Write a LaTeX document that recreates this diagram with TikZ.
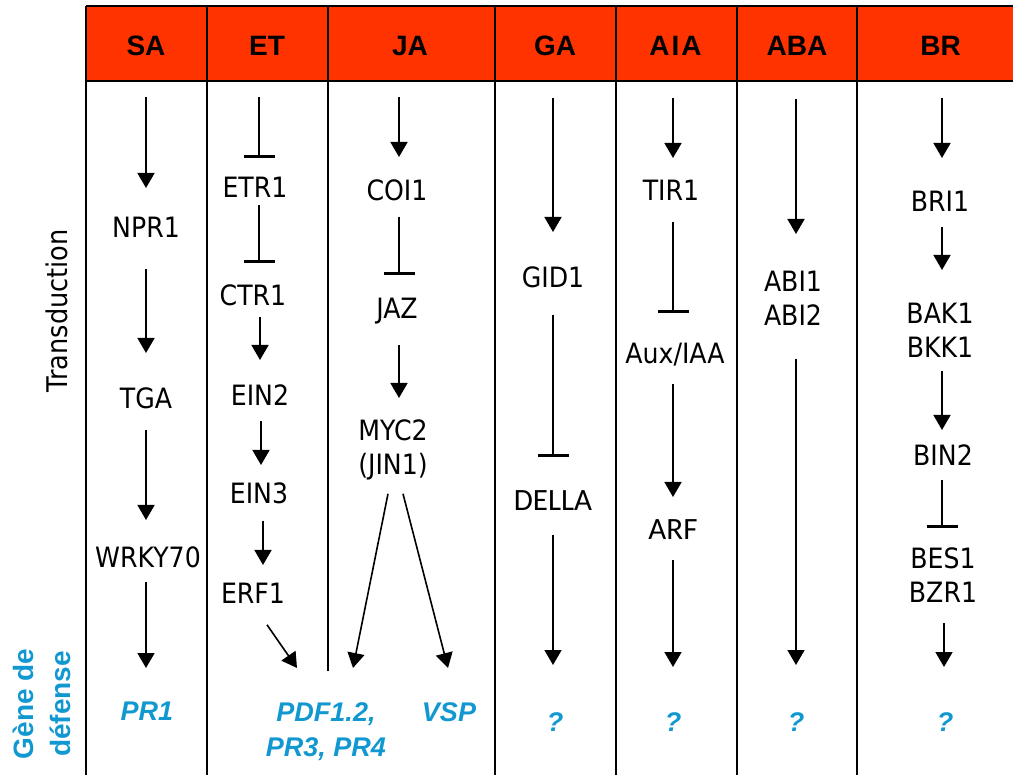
\documentclass[tikz,border=0pt]{standalone}
\usepackage{fontspec}
\setmainfont{DejaVu Sans}[FakeStretch=0.9]
\newfontfamily\hdfont{Liberation Sans}
\newfontfamily\calfont{Carlito}
\usetikzlibrary{arrows.meta}
\definecolor{hdred}{RGB}{255,51,0}
\definecolor{genblue}{RGB}{18,152,208}
\begin{document}
\begin{tikzpicture}[x=1pt,y=-1pt,
  lab/.style={inner sep=0pt, anchor=north, font=\fontsize{28}{34}\selectfont, align=center},
  cal/.style={lab, font=\calfont\fontsize{31}{36}\selectfont},
  hd/.style={inner sep=0pt, font=\hdfont\bfseries\fontsize{28}{34}\selectfont},
  gene/.style={inner sep=0pt, anchor=north, text=genblue, font=\hdfont\bfseries\itshape\fontsize{27}{35}\selectfont, align=center},
  act/.style={line width=1.6pt, -{Triangle[width=17pt,length=15pt]}},
  inh/.style={line width=1.6pt, -{Bar[width=31pt,line width=3.4pt]}},
  gridline/.style={line width=2pt}]
\useasboundingbox (0,0) rectangle (1013,775);
% header band
\fill[hdred] (86,6) rectangle (1013,81);
\draw[gridline] (86,6) -- (1013,6);
\draw[line width=2.6pt] (86,81) -- (1013,81);
\foreach \xx in {86,206.5,494.5,616,737,857} {\draw[gridline] (\xx,6) -- (\xx,775);}
\draw[gridline] (328,6) -- (328,671);
% headers
\node[hd] (hSA) at (146,46) {SA};
\node[hd] (hET) at (267,46) {ET};
\node[hd] (hJA) at (410,46) {JA};
\node[hd] (hGA) at (555,46) {GA};
\node[hd] (hAIA) at (675.5,46) {A\kern2pt I\kern2pt A};
\node[hd] (hABA) at (797,46) {ABA};
\node[hd] (hBR) at (940.5,46) {BR};
% row labels
\node[rotate=90, inner sep=0pt, font=\fontsize{28.5}{34}\selectfont] (trlab) at (57,311) {Transduction};
\node[rotate=90, inner sep=0pt, align=center, text=genblue, font=\hdfont\bfseries\fontsize{28}{37}\selectfont] (gdlab) at (42,704) {Gène de\\défense};
% ---- SA
\coordinate (saT) at (146,97);
\node[lab] (npr1) at (146,217) {NPR1};
\node[lab] (tga) at (146,388) {TGA};
\node[lab] (wrky) at (148,547) {WRKY70};
\node[gene] (pr1) at (147,702) {PR1};
\draw[act] (saT) -- ([yshift=29pt]npr1.north);
\draw[act] ([yshift=-31pt]npr1.south) -- ([yshift=35pt]tga.north);
\draw[act] ([yshift=-20pt]tga.south) -- ([xshift=-2pt,yshift=27pt]wrky.north);
\draw[act] ([xshift=-2pt,yshift=-13pt]wrky.south) -- ([xshift=-1pt,yshift=34pt]pr1.north);
% ---- JA targets
\node[gene] (pdf) at (326,702) {PDF1.2,\\PR3, PR4};
\node[gene] (vsp) at (449,702) {VSP};
% ---- ET
\coordinate (etT) at (259,97);
\node[lab] (etr1) at (255,177) {ETR1};
\node[lab] (ctr1) at (253,285) {CTR1};
\node[lab] (ein2) at (260,385) {EIN2};
\node[lab] (ein3) at (259,483) {EIN3};
\node[lab] (erf1) at (253,583) {ERF1};
\draw[inh] (etT) -- ([xshift=4pt,yshift=19pt]etr1.north);
\draw[inh] ([xshift=4pt,yshift=-7pt]etr1.south) -- ([xshift=6pt,yshift=22pt]ctr1.north);
\draw[act] ([xshift=7pt,yshift=-10pt]ctr1.south) -- ([yshift=25pt]ein2.north);
\draw[act] ([xshift=1pt,yshift=-15pt]ein2.south) -- ([xshift=2pt,yshift=18pt]ein3.north);
\draw[act] ([xshift=4pt,yshift=-16pt]ein3.south) -- ([xshift=10pt,yshift=18pt]erf1.north);
\draw[act] ([xshift=14pt,yshift=-21pt]erf1.south) -- ([xshift=-29pt,yshift=34pt]pdf.north);
% ---- JA
\coordinate (jaT) at (399,97);
\node[lab] (coi1) at (397,180) {COI1};
\node[lab] (jaz) at (397,298) {JAZ};
\node[lab] (myc) at (393,420) {MYC2\\(JIN1)};
\draw[act] (jaT) -- ([xshift=2pt,yshift=23pt]coi1.north);
\draw[inh] ([xshift=2pt,yshift=-15pt]coi1.south) -- ([xshift=2pt,yshift=23pt]jaz.north);
\draw[act] ([xshift=2pt,yshift=-21pt]jaz.south) -- ([xshift=6pt,yshift=22pt]myc.north);
\draw[act] ([xshift=-5pt,yshift=-13pt]myc.south) -- ([xshift=27pt,yshift=34pt]pdf.north);
\draw[act] ([xshift=10pt,yshift=-13pt]myc.south) -- ([xshift=-1pt,yshift=34pt]vsp.north);
% ---- GA
\coordinate (gaT) at (553,98);
\node[lab] (gid1) at (553,267) {GID1};
\node[cal] (della) at (553,490) {DELLA};
\node[gene] (gaQ) at (555,712) {?};
\draw[act] (gaT) -- ([yshift=35pt]gid1.north);
\draw[inh] ([yshift=-26pt]gid1.south) -- ([yshift=33pt]della.north);
\draw[act] ([yshift=-25pt]della.south) -- ([xshift=-2pt,yshift=47pt]gaQ.north);
% ---- AIA
\coordinate (aiT) at (673,98);
\node[lab] (tir1) at (671,180) {TIR1};
\node[lab] (aux) at (675,343) {Aux/IAA};
\node[cal] (arf) at (673,519) {ARF};
\node[gene] (aiQ) at (673,712) {?};
\draw[act] (aiT) -- ([xshift=2pt,yshift=22pt]tir1.north);
\draw[inh] ([xshift=2pt,yshift=-21pt]tir1.south) -- ([xshift=-2pt,yshift=30pt]aux.north);
\draw[act] ([xshift=-2pt,yshift=-18pt]aux.south) -- ([yshift=22pt]arf.north);
\draw[act] ([yshift=-21pt]arf.south) -- ([yshift=45pt]aiQ.north);
% ---- ABA
\coordinate (abT) at (796,99);
\node[lab] (abi) at (793,271) {ABI1\\ABI2};
\node[gene] (abQ) at (796,712) {?};
\draw[act] (abT) -- ([xshift=3pt,yshift=37pt]abi.north);
\draw[act] ([xshift=3pt,yshift=-33pt]abi.south) -- ([yshift=47pt]abQ.north);
% ---- BR
\coordinate (brT) at (942,98);
\node[lab] (bri1) at (940,191) {BRI1};
\node[lab] (bak) at (940,303) {BAK1\\BKK1};
\node[lab] (bin2) at (943,445) {BIN2};
\node[lab] (bes) at (943,548) {BES1\\BZR1};
\node[gene] (brQ) at (945,712) {?};
\draw[act] (brT) -- ([xshift=2pt,yshift=33pt]bri1.north);
\draw[act] ([xshift=2pt,yshift=-15pt]bri1.south) -- ([xshift=2pt,yshift=33pt]bak.north);
\draw[act] ([xshift=2pt,yshift=-13pt]bak.south) -- ([xshift=-1pt,yshift=15pt]bin2.north);
\draw[inh] ([xshift=-1pt,yshift=-14pt]bin2.south) -- ([xshift=-1pt,yshift=20pt]bes.north);
\draw[act] ([xshift=1pt,yshift=-20pt]bes.south) -- ([xshift=-1pt,yshift=45pt]brQ.north);
\end{tikzpicture}
\end{document}
